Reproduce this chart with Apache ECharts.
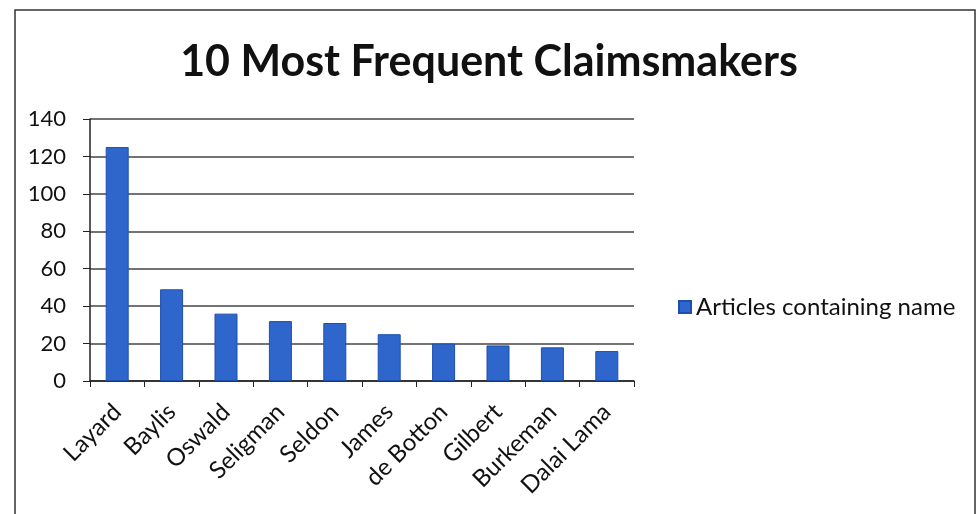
<!DOCTYPE html>
<html>
<head>
<meta charset="utf-8">
<script src="https://cdn.jsdelivr.net/npm/echarts@6/dist/echarts.min.js"></script>
<style>
  html, body { margin: 0; padding: 0; background: #fff; }
  #chart { width: 978px; height: 514px; }
</style>
</head>
<body>
<div id="chart"></div>
<script>
// Claimsmakers ranked by number of articles mentioning them
const names = ['Layard', 'Baylis', 'Oswald', 'Seligman', 'Seldon', 'James', 'de Botton', 'Gilbert', 'Burkeman', 'Dalai Lama'];
const articleCounts = [125, 49, 36, 32, 31, 25, 20, 19, 18, 16];
const yTicks = [0, 20, 40, 60, 80, 100, 120, 140];

const chart = echarts.init(document.getElementById('chart'));
const fontFamily = 'Lato, "Open Sans", sans-serif';

chart.setOption({
  backgroundColor: '#ffffff',
  animation: false,
  title: {
    text: '10 Most Frequent Claimsmakers',
    left: 'center',
    top: 36,
    textStyle: { fontFamily, fontSize: 43, fontWeight: 'bold', color: '#111' }
  },
  graphic: [{
    type: 'rect',
    shape: { x: 15, y: 10, width: 960, height: 520 },
    style: { fill: 'none', stroke: '#333', lineWidth: 1.5 },
    silent: true
  }],
  legend: {
    orient: 'vertical',
    left: 673,
    top: 290,
    itemWidth: 12,
    itemHeight: 12,
    itemGap: 8,
    icon: 'rect',
    textStyle: { fontFamily, fontSize: 24, color: '#111' },
    data: ['Articles containing name']
  },
  grid: { left: 90, right: 344, top: 119, bottom: 133 },
  xAxis: {
    type: 'category',
    data: names,
    axisLine: { lineStyle: { color: '#222', width: 1.5 } },
    axisTick: { show: true, alignWithLabel: false, length: 6, lineStyle: { color: '#222' } },
    axisLabel: {
      interval: 0,
      rotate: 45,
      fontFamily,
      fontSize: 24,
      color: '#111',
      margin: 27
    }
  },
  yAxis: {
    type: 'value',
    min: yTicks[0],
    max: yTicks[yTicks.length - 1],
    interval: 20,
    axisLine: { show: true, lineStyle: { color: '#222', width: 1.5 } },
    axisTick: { show: true, length: 7, inside: false, lineStyle: { color: '#222' } },
    axisLabel: { fontFamily, fontSize: 22, color: '#111', margin: 24 },
    splitLine: { lineStyle: { color: '#444', width: 1.5 } }
  },
  series: [{
    name: 'Articles containing name',
    type: 'bar',
    data: articleCounts,
    barWidth: 23,
    itemStyle: { color: '#2f66cc', borderColor: '#1d4fae', borderWidth: 1 }
  }]
});
</script>
</body>
</html>
